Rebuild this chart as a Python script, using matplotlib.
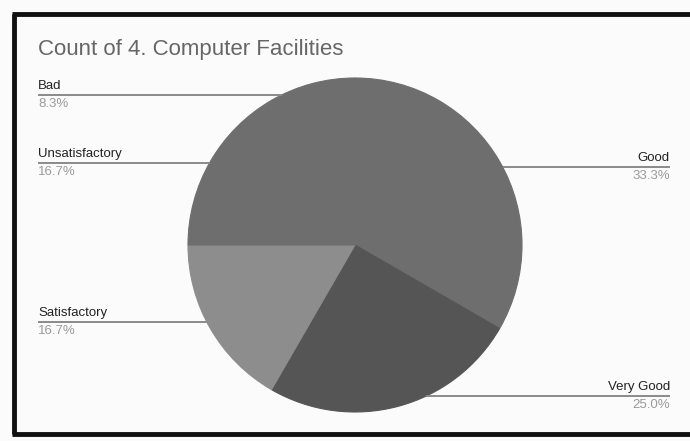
import numpy as np
import matplotlib
matplotlib.use("Agg")
import matplotlib.pyplot as plt

title = "Count of 4. Computer Facilities"
categories = ["Good", "Very Good", "Satisfactory", "Unsatisfactory", "Bad"]
counts = [4, 3, 2, 2, 1]
colors = ["#6e6e6e", "#555555", "#8d8d8d", "#6e6e6e", "#6e6e6e"]

W, H = 690, 441
fig = plt.figure(figsize=(W / 100, H / 100), dpi=100)
fig.patch.set_facecolor("#fbfbfb")
ax = fig.add_axes([0, 0, 1, 1])

def Y(py):
    return H - py

cx, cy, r = 355, Y(245), 167
wedges, _ = ax.pie(counts, colors=colors, startangle=90, counterclock=False,
                   center=(cx, cy), radius=r, frame=True,
                   wedgeprops=dict(linewidth=0.8))
for w, c in zip(wedges, colors):
    w.set_edgecolor(c)
ax.set_xlim(0, W)
ax.set_ylim(0, H)
ax.set_aspect("equal")
ax.axis("off")

total = sum(counts)
pcts = [f"{100 * c / total:.1f}%" for c in counts]

# label layout: (side, line y in px)
layout = {
    "Good": ("right", 167),
    "Very Good": ("right", 396),
    "Satisfactory": ("left", 322),
    "Unsatisfactory": ("left", 163),
    "Bad": ("left", 95),
}
font = "Liberation Sans"
for cat, pct in zip(categories, pcts):
    side, ly = layout[cat]
    dy = abs(H - ly - cy)
    dx = np.sqrt(max(r * r - dy * dy, 0))
    if side == "left":
        x0, x1 = 38, cx - dx
        tx, ha = 38, "left"
    else:
        x0, x1 = cx + dx, 670
        tx, ha = 670, "right"
    ax.plot([x0, x1], [Y(ly), Y(ly)], color="#8a8a8a", lw=1.4, solid_capstyle="butt")
    ax.text(tx, Y(ly) + 3, cat, ha=ha, va="bottom", fontsize=9.5,
            color="#222222", family=font)
    ax.text(tx, Y(ly) - 3, pct, ha=ha, va="top", fontsize=9.5,
            color="#9a9a9a", family=font)

ax.text(38, Y(50), title, ha="left", va="center", fontsize=16,
        color="#666666", family=font)

# frame
ax.plot([14, 14], [Y(14), Y(434)], color="#111111", lw=3.5, solid_capstyle="butt")
ax.plot([12, W], [Y(14), Y(14)], color="#111111", lw=3.5, solid_capstyle="butt")
ax.plot([12, W], [Y(434), Y(434)], color="#111111", lw=3.5, solid_capstyle="butt")

fig.savefig("out.png", dpi=100, facecolor=fig.get_facecolor())
